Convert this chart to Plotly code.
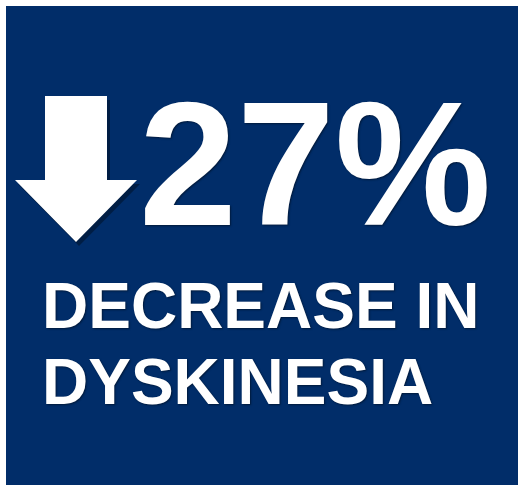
import plotly.graph_objects as go

# Content values
headline_value = 27
headline_suffix = "%"
label_lines = ["DECREASE IN", "DYSKINESIA"]

BG = "#012D69"
W, H = 518, 485

fig = go.Figure()

# blank trace so axes exist
fig.add_trace(go.Scatter(x=[0, W], y=[0, H], mode="markers",
                         marker=dict(opacity=0), hoverinfo="skip", showlegend=False))

shapes = []
# background panel
shapes.append(dict(type="rect", xref="x", yref="y", x0=6, x1=W, y0=6, y1=H,
                   fillcolor=BG, line=dict(width=0), layer="below"))

def arrow_path(dx=0, dy=0):
    pts = [(45, 96), (107, 96), (107, 180), (137, 180), (76, 242), (15, 180), (45, 180)]
    return "M " + " L ".join(f"{x+dx},{y+dy}" for x, y in pts) + " Z"

# arrow shadow
shapes.append(dict(type="path", xref="x", yref="y", path=arrow_path(3, 4),
                   fillcolor="rgba(0,0,0,0.35)", line=dict(width=0)))
# arrow
shapes.append(dict(type="path", xref="x", yref="y", path=arrow_path(),
                   fillcolor="white", line=dict(width=0)))

shadow = "1px 1px 2px rgba(0,0,0,0.45)"
annotations = [
    dict(x=137, y=164, xref="x", yref="y", xanchor="left", yanchor="middle",
         text=f"<b>{headline_value}{headline_suffix}</b>", showarrow=False,
         font=dict(family="Liberation Sans, Arial", size=176, color="white", shadow=shadow)),
    dict(x=40, y=306, xref="x", yref="y", xanchor="left", yanchor="middle",
         text=f"<b>{label_lines[0]}</b>", showarrow=False,
         font=dict(family="Liberation Sans, Arial", size=64, color="white", shadow=shadow)),
    dict(x=40, y=382, xref="x", yref="y", xanchor="left", yanchor="middle",
         text=f"<b>{label_lines[1]}</b>", showarrow=False,
         font=dict(family="Liberation Sans, Arial", size=64, color="white", shadow=shadow)),
]

fig.update_layout(
    width=W, height=H,
    margin=dict(l=0, r=0, t=0, b=0),
    paper_bgcolor="white", plot_bgcolor="white",
    xaxis=dict(range=[0, W], visible=False, fixedrange=True),
    yaxis=dict(range=[H, 0], visible=False, fixedrange=True),
    shapes=shapes, annotations=annotations,
    showlegend=False,
)

fig.write_html(
    "out.html",
    config={"displayModeBar": False},
    post_script="document.body.style.margin='0';document.body.style.padding='0';"
                "document.body.style.overflow='hidden';"
                "document.documentElement.style.overflow='hidden';",
)
